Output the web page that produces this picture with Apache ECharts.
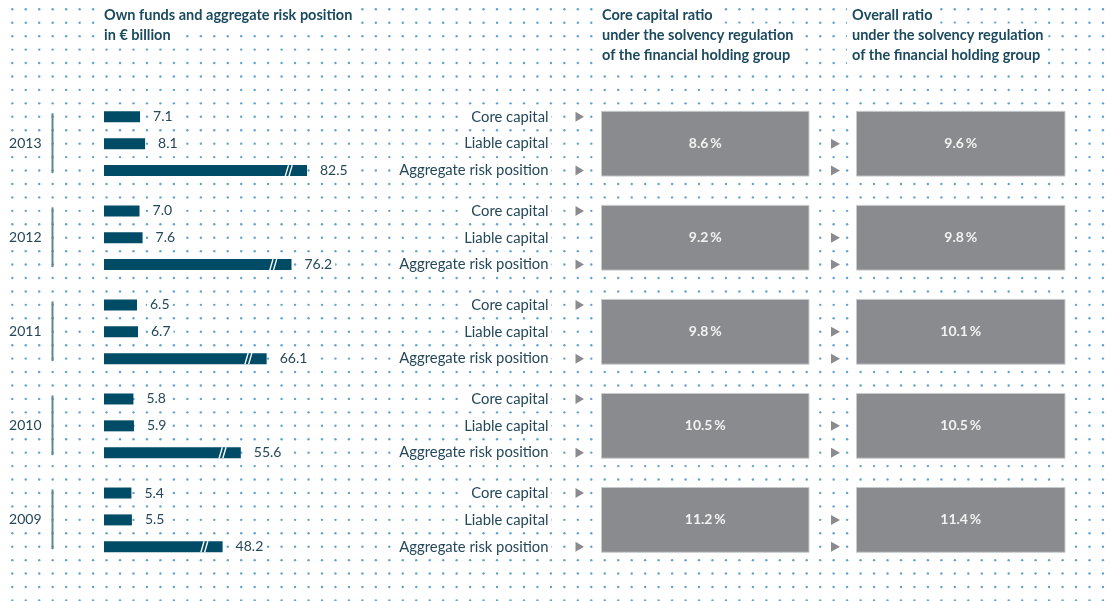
<!DOCTYPE html>
<html>
<head>
<meta charset="utf-8">
<style>
  html, body { margin: 0; padding: 0; background: #fff; }
  #main { width: 1110px; height: 601px; }
</style>
</head>
<body>
<div id="main"></div>
<script src="https://cdn.jsdelivr.net/npm/echarts@6/dist/echarts.min.js"></script>
<script>
// values in € billion, newest year first (top to bottom)
var years = ['2013', '2012', '2011', '2010', '2009'];
var coreCapital = [7.1, 7.0, 6.5, 5.8, 5.4];
var liableCapital = [8.1, 7.6, 6.7, 5.9, 5.5];
var aggregateRisk = [82.5, 76.2, 66.1, 55.6, 48.2];
var coreRatio = [8.6, 9.2, 9.8, 10.5, 11.2];
var overallRatio = [9.6, 9.8, 10.1, 10.5, 11.4];
var rowLabels = ['Core capital', 'Liable capital', 'Aggregate risk position'];
var leftTitle = ['Own funds and aggregate risk position', 'in € billion'];
var coreTitle = ['Core capital ratio', 'under the solvency regulation', 'of the financial holding group'];
var overallTitle = ['Overall ratio', 'under the solvency regulation', 'of the financial holding group'];

var FONT = 'Lato, "Noto Sans", sans-serif';
var BAR = '#004b66';
var TXT = '#24485a';
var HEAD = '#1b4a5f';
var GREY = '#8a8b8e';
var GROUP_STEP = 3.5; // rows per year block, incl. gap

function rowPos(g, r) { return g * GROUP_STEP + r; }

// dotted background pattern
function dotCanvas() {
  var c = document.createElement('canvas');
  c.width = 1110; c.height = 601;
  var ctx = c.getContext('2d');
  ctx.fillStyle = '#5fa4d0';
  for (var y = 9.3; y < 601; y += 13.435) {
    for (var x = 12.3; x < 1110; x += 13.465) {
      ctx.beginPath();
      ctx.arc(x, y, 1.2, 0, Math.PI * 2);
      ctx.fill();
    }
  }
  return c;
}

var fundsData = [], aggData = [], groupData = [], rowData = [];
years.forEach(function (y, g) {
  fundsData.push([coreCapital[g], rowPos(g, 0)]);
  fundsData.push([liableCapital[g], rowPos(g, 1)]);
  aggData.push([aggregateRisk[g], rowPos(g, 2)]);
  groupData.push([0, rowPos(g, 0), g]);
  rowLabels.forEach(function (l, r) { rowData.push([0, rowPos(g, r), r]); });
});

function whiteText(txt, x, y, align, font, fill, pad) {
  return {
    type: 'text',
    style: {
      text: txt, x: x, y: y, align: align, verticalAlign: 'middle',
      font: font, fill: fill || TXT,
      backgroundColor: '#fff', padding: pad || [2, 3]
    }
  };
}

function barRender(broken) {
  return function (params, api) {
    var v = api.value(0);
    var p0 = api.coord([0, api.value(1)]);
    var p1 = api.coord([v, api.value(1)]);
    var h = 11;
    var kids = [{
      type: 'rect',
      shape: { x: p0[0], y: p0[1] - h / 2, width: p1[0] - p0[0], height: h },
      style: { fill: BAR }
    }];
    if (broken) {
      var e = p1[0], t = p1[1] - h / 2, b = p1[1] + h / 2;
      kids.push({ type: 'line', shape: { x1: e - 21.7, y1: b, x2: e - 18.5, y2: t }, style: { stroke: '#fff', lineWidth: 1.4 } });
      kids.push({ type: 'line', shape: { x1: e - 18.0, y1: b, x2: e - 14.8, y2: t }, style: { stroke: '#fff', lineWidth: 1.4 } });
    }
    kids.push(whiteText(v.toFixed(1), p1[0] + 10, p1[1], 'left', '14px ' + FONT));
    return { type: 'group', children: kids };
  };
}

var chartDom = document.getElementById('main');
var myChart = echarts.init(chartDom, null, { renderer: 'canvas' });

var headerGraphics = [{
  type: 'image', z: -10, silent: true,
  style: { image: dotCanvas(), x: 0, y: 0, width: 1110, height: 601 }
}];
function addHeader(lines, x) {
  lines.forEach(function (l, i) {
    headerGraphics.push({
      type: 'text', z: 5,
      style: {
        text: l, x: x - 5, y: 15 + i * 20, verticalAlign: 'middle',
        font: 'bold 14.5px ' + FONT, fill: HEAD,
        backgroundColor: '#fff', padding: [4, 5, 4, 5]
      }
    });
  });
}
addHeader(leftTitle, 104);
addHeader(coreTitle, 602);
addHeader(overallTitle, 852);

var option = {
  animation: false,
  backgroundColor: '#fff',
  graphic: headerGraphics,
  grid: { left: 104, top: 103.4, width: 203, height: 456.8 },
  xAxis: [
    { type: 'value', min: 0, max: 40, show: false },
    { type: 'value', min: 0, max: 82.5, show: false }
  ],
  yAxis: { type: 'value', inverse: true, min: -0.5, max: 16.5, show: false },
  series: [
    {
      // own funds bars
      type: 'custom', xAxisIndex: 0, data: fundsData,
      renderItem: barRender(false)
    },
    {
      // aggregate risk position, shorter scale with break marks
      type: 'custom', xAxisIndex: 1, data: aggData,
      renderItem: barRender(true)
    },
    {
      // year labels and brackets
      type: 'custom', xAxisIndex: 0, data: groupData,
      renderItem: function (params, api) {
        var g = api.value(2);
        var yTop = api.coord([0, api.value(1)])[1];
        var yMid = api.coord([0, api.value(1) + 1])[1];
        var yBot = api.coord([0, api.value(1) + 2])[1];
        return {
          type: 'group',
          children: [
            { type: 'line', shape: { x1: 52.5, y1: yTop - 3.5, x2: 52.5, y2: yBot + 2.5 }, style: { stroke: '#5e8796', lineWidth: 2 } },
            whiteText(years[g], 43.5, yMid, 'right', '14px ' + FONT, TXT, [2, 2])
          ]
        };
      }
    },
    {
      // row labels and arrows
      type: 'custom', xAxisIndex: 0, data: rowData,
      renderItem: function (params, api) {
        var r = api.value(2);
        var y = api.coord([0, api.value(1)])[1];
        var kids = [whiteText(rowLabels[r], 551.5, y, 'right', '14.8px ' + FONT, TXT, [2, 3])];
        if (r !== 1) {
          kids.push({ type: 'polygon', shape: { points: [[575.5, y - 5], [575.5, y + 5], [584, y]] }, style: { fill: GREY } });
        }
        if (r !== 0) {
          kids.push({ type: 'polygon', shape: { points: [[831, y - 5], [831, y + 5], [840, y]] }, style: { fill: GREY } });
        }
        return { type: 'group', children: kids };
      }
    },
    {
      // ratio boxes
      type: 'custom', xAxisIndex: 0, data: groupData,
      renderItem: function (params, api) {
        var g = api.value(2);
        var yTop = api.coord([0, api.value(1)])[1] - 5.5;
        var yBot = api.coord([0, api.value(1) + 2])[1] + 5.5;
        var yMid = api.coord([0, api.value(1) + 1])[1];
        function box(x, w, val) {
          return [
            { type: 'rect', shape: { x: x, y: yTop, width: w, height: yBot - yTop }, style: { fill: GREY, stroke: '#c9cacc', lineWidth: 1 } },
            { type: 'text', style: { text: val.toFixed(1) + '\u2009%', x: x + w / 2, y: yMid, align: 'center', verticalAlign: 'middle', font: 'bold 14px ' + FONT, fill: '#f2f2f2' } }
          ];
        }
        return {
          type: 'group',
          children: box(601.5, 207.5, coreRatio[g]).concat(box(856.5, 208.5, overallRatio[g]))
        };
      }
    }
  ]
};

option && myChart.setOption(option);
</script>
</body>
</html>
